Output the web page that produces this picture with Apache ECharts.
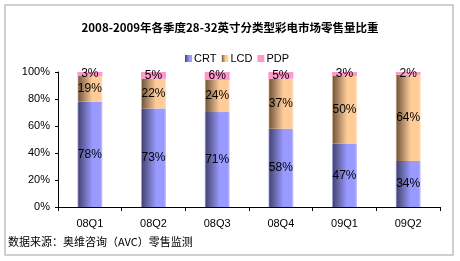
<!DOCTYPE html>
<html><head><meta charset="utf-8">
<script src="https://cdn.jsdelivr.net/npm/echarts@6/dist/echarts.min.js"></script>
<style>html,body{margin:0;padding:0;background:#fff}#c{width:460px;height:261px}</style>
</head><body><div id="c"></div>
<script>
const categories = ['08Q1','08Q2','08Q3','08Q4','09Q1','09Q2'];
const crt = [78, 73, 71, 58, 47, 34];
const lcd = [19, 22, 24, 37, 50, 64];
const pdp = [3, 5, 6, 5, 3, 2];
const yTicks = [0, 20, 40, 60, 80, 100];

const totals = categories.map((_, i) => crt[i] + lcd[i] + pdp[i]);
const share = (arr) => arr.map((v, i) => ({ value: v / totals[i] * 100, raw: v }));

function grad(dark, mid, light) {
  return new echarts.graphic.LinearGradient(0, 0, 1, 0, [
    { offset: 0, color: light },
    { offset: 0.06, color: dark },
    { offset: 0.6, color: mid },
    { offset: 0.92, color: mid },
    { offset: 1, color: light }
  ]);
}
const crtColor = grad('#484878', '#9999ff', '#c8c8ff');
const lcdColor = grad('#785c40', '#ffcc99', '#ffe0c0');
const pdpColor = '#ff99cc';

const font = 'Arial, "Liberation Sans", sans-serif';
const label = {
  show: true, position: 'inside', color: '#000', fontSize: 12, fontFamily: font,
  formatter: p => p.data.raw + '%'
};

const chart = echarts.init(document.getElementById('c'), null, { renderer: 'canvas' });
chart.setOption({
  animation: false,
  backgroundColor: '#fff',
  title: {
    text: '2008-2009年各季度28-32英寸分类型彩电市场零售量比重',
    left: 'center', top: 17,
    textStyle: { fontSize: 11.5, fontWeight: 'bold', color: '#000', fontFamily: '"Noto Sans CJK SC", sans-serif' }
  },
  legend: {
    left: 180, top: 48, itemWidth: 7, itemHeight: 7, itemGap: 5,
    textStyle: { fontSize: 11, color: '#000', fontFamily: font, padding: [0, 0, 0, -3] },
    data: [
      { name: 'CRT', icon: 'rect', itemStyle: { color: crtColor } },
      { name: 'LCD', icon: 'rect', itemStyle: { color: lcdColor } },
      { name: 'PDP', icon: 'rect', itemStyle: { color: pdpColor } }
    ]
  },
  grid: { left: 58, right: 20, top: 72, bottom: 54 },
  xAxis: {
    type: 'category', data: categories,
    axisLine: { lineStyle: { color: '#000', width: 1 } },
    axisTick: { show: true, length: 4, lineStyle: { color: '#000' } },
    axisLabel: { color: '#000', fontSize: 11, fontFamily: font, margin: 11 }
  },
  yAxis: {
    type: 'value', min: 0, max: 100, interval: 20,
    axisLine: { show: true, lineStyle: { color: '#000', width: 1 } },
    axisTick: { show: true, length: 3, lineStyle: { color: '#000' } },
    splitLine: { show: false },
    axisLabel: { color: '#000', fontSize: 11, fontFamily: font, margin: 8,
      formatter: v => yTicks.includes(v) ? v + '%' : '' }
  },
  series: [
    { name: 'CRT', type: 'bar', stack: 's', barWidth: 25, data: share(crt), itemStyle: { color: crtColor }, label },
    { name: 'LCD', type: 'bar', stack: 's', barWidth: 25, data: share(lcd), itemStyle: { color: lcdColor }, label },
    { name: 'PDP', type: 'bar', stack: 's', barWidth: 25, data: share(pdp), itemStyle: { color: pdpColor }, label }
  ],
  graphic: [
    { type: 'rect', shape: { x: 5, y: 5, width: 448, height: 250 }, style: { fill: 'none', stroke: '#c0c0c0', lineWidth: 1.5 }, silent: true },
    { type: 'text', left: 8, top: 236, style: { text: '数据来源：奥维咨询（AVC）零售监测', fontSize: 11, fill: '#000', fontFamily: '"Noto Sans CJK SC", sans-serif' } }
  ]
});
</script></body></html>
